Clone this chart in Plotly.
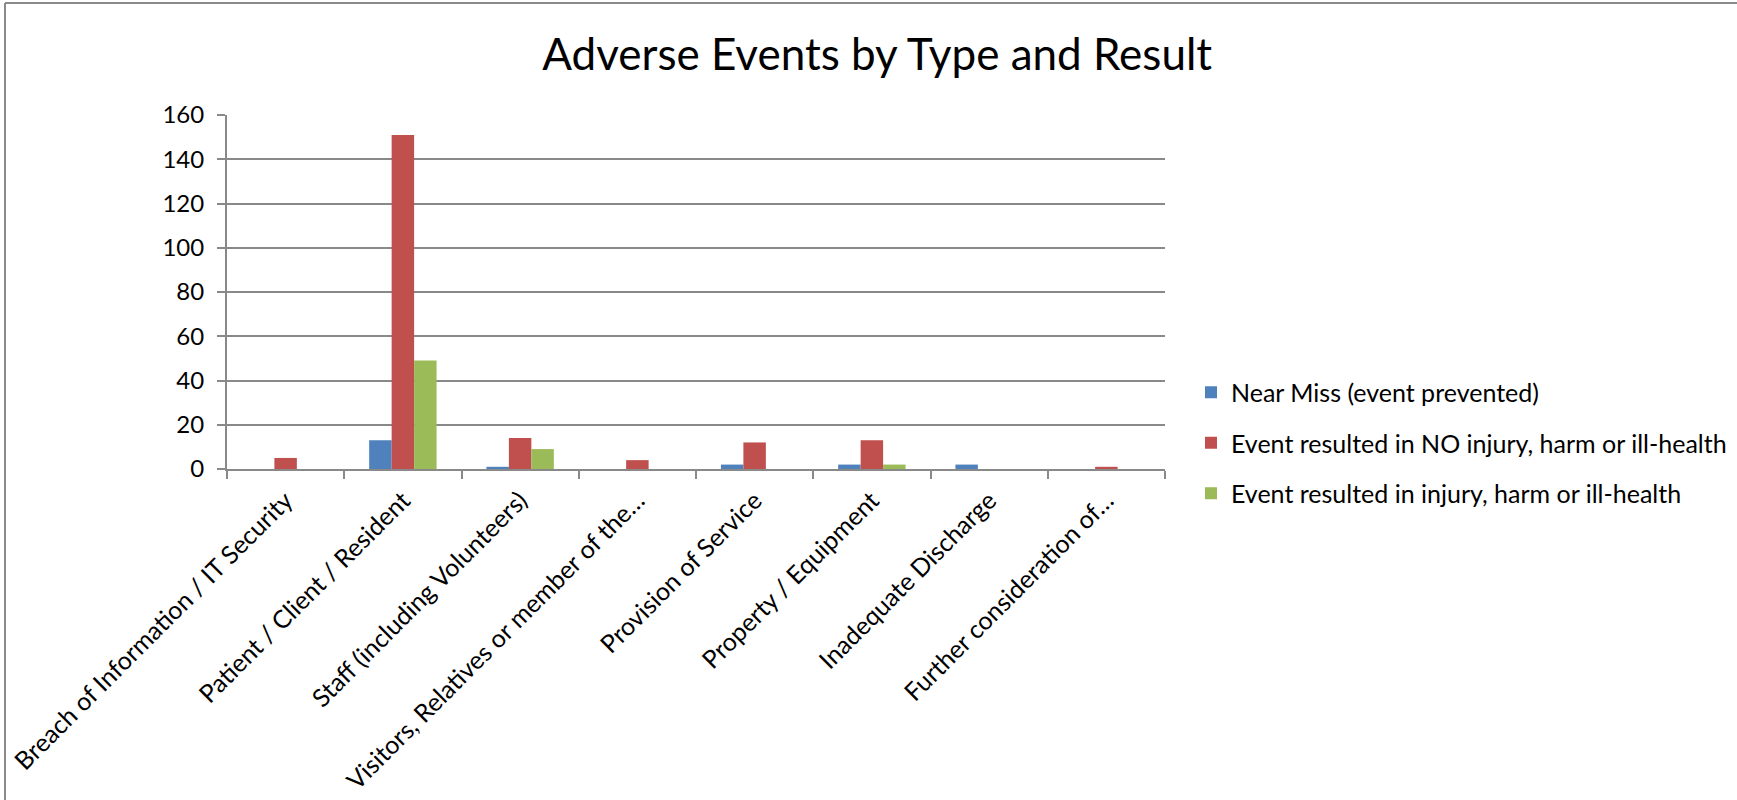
import plotly.graph_objects as go

categories = [
    "Breach of Information / IT Security",
    "Patient / Client / Resident",
    "Staff (including Volunteers)",
    "Visitors, Relatives or member of the…",
    "Provision of Service",
    "Property / Equipment",
    "Inadequate Discharge",
    "Further consideration of…",
]
series_names = [
    "Near Miss (event prevented)",
    "Event resulted in NO injury, harm or ill-health",
    "Event resulted in injury, harm or ill-health",
]
near_miss = [0, 13, 1, 0, 2, 2, 2, 0]
no_injury = [5, 151, 14, 4, 12, 13, 0, 1]
injury = [0, 49, 9, 0, 0, 2, 0, 0]
colors = ["#4F81BD", "#C0504D", "#9BBB59"]
y_ticks = [0, 20, 40, 60, 80, 100, 120, 140, 160]

FONT = "Lato"
GRID = "#898989"

W, H = 1737, 800
L, R, T, B = 227, 1165, 115, 469  # plot area in px

fig = go.Figure()
for name, vals, col in zip(series_names, [near_miss, no_injury, injury], colors):
    fig.add_trace(go.Bar(
        x=categories, y=vals, name=name, marker=dict(color=col, line=dict(width=0)),
        legendgroup=name,
    ))

def px_x(p):
    return (p - L) / (R - L)

def px_y(p):
    return (B - p) / (B - T)

fig.update_layout(
    width=W, height=H,
    margin=dict(l=L, r=W - R, t=T, b=H - B, autoexpand=False),
    paper_bgcolor="white", plot_bgcolor="white",
    barmode="group", bargap=0.425, bargroupgap=0,
    font=dict(family=FONT, size=24, color="black"),
    title=dict(text="Adverse Events by Type and Result", x=0.505, xanchor="center",
               y=1 - 55 / H, yanchor="middle", yref="container",
               font=dict(family=FONT, size=44, color="black")),
    showlegend=True,
    legend=dict(x=px_x(1191), xanchor="left", y=px_y(443), yanchor="middle",
                font=dict(family=FONT, size=25, color="black"),
                tracegroupgap=15, bgcolor="rgba(0,0,0,0)"),
    xaxis=dict(type="category", tickangle=-45, showgrid=False,
               showline=True, linecolor=GRID, linewidth=2,
               ticks="outside", tickson="boundaries", ticklen=8, tickcolor=GRID, tickwidth=2,
               ticklabelstandoff=5,
               tickfont=dict(family=FONT, size=25, color="black")),
    yaxis=dict(range=[0, 160], tickvals=y_ticks, showgrid=True, gridcolor=GRID, gridwidth=2,
               showline=True, linecolor=GRID, linewidth=2, zeroline=False,
               ticks="outside", ticklen=8, tickcolor=GRID, tickwidth=2,
               ticklabelstandoff=8,
               tickfont=dict(family=FONT, size=24, color="black")),
    shapes=[
        dict(type="line", xref="paper", yref="paper", x0=px_x(5), x1=px_x(1737), y0=px_y(3), y1=px_y(3),
             line=dict(color="#8a8a8a", width=2)),
        dict(type="line", xref="paper", yref="paper", x0=px_x(5), x1=px_x(5), y0=px_y(3), y1=px_y(800),
             line=dict(color="#8a8a8a", width=2)),
    ],
)

fig.write_html("out.html")
